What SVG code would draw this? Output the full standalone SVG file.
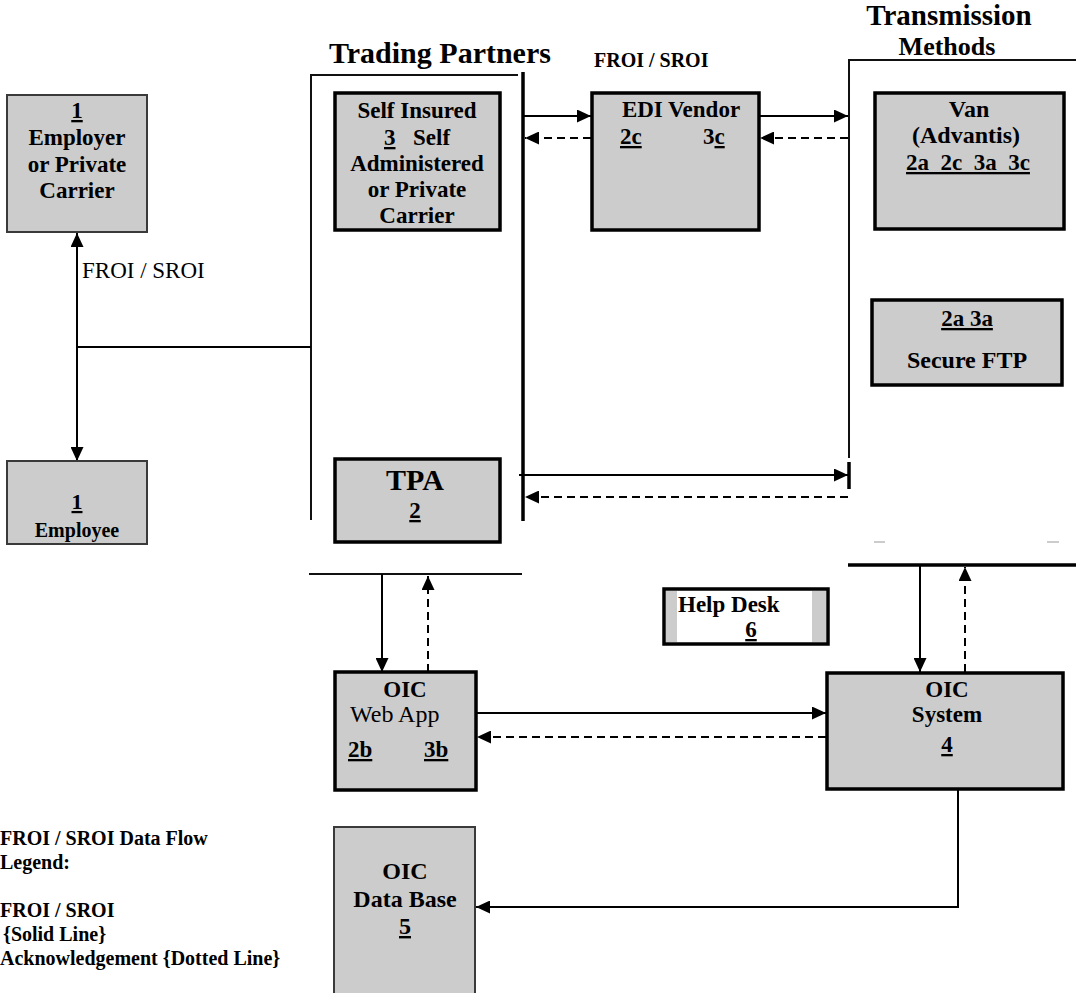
<svg xmlns="http://www.w3.org/2000/svg" width="1076" height="993" viewBox="0 0 1076 993">
<style>
text{font-family:"Liberation Serif","Times New Roman",serif;fill:#000}
.b{font-weight:bold}
.c{text-anchor:middle}
.u{text-decoration:underline}
.box{fill:#cccccc;stroke:#000;stroke-width:3.5}
.tbox{fill:#cccccc;stroke:#3a3a3a;stroke-width:2}
.ln{fill:none;stroke:#000;stroke-width:2}
.dl{fill:none;stroke:#000;stroke-width:2;stroke-dasharray:8 5}
.br{fill:none;stroke:#111;stroke-width:2}
.brk{fill:none;stroke:#000;stroke-width:3.5}
</style>
<defs>
<marker id="ah" markerUnits="userSpaceOnUse" markerWidth="14" markerHeight="13" refX="14" refY="6.5" orient="auto-start-reverse">
<path d="M0,0 L14,6.5 L0,13 z" fill="#000" stroke="none"/>
</marker>
</defs>

<rect width="1076" height="993" fill="#fff"/>

<g id="headings">
<text class="b" x="329" y="63" font-size="30">Trading Partners</text>
<text class="b" x="594" y="67" font-size="20">FROI / SROI</text>
<text class="b c" x="949" y="25" font-size="29">Transmission</text>
<text class="b c" x="947" y="55" font-size="26">Methods</text>
</g>

<g id="brackets">
<polyline class="br" points="311,520 311,75 518,75"/>
<line class="brk" x1="523" y1="72" x2="523" y2="521"/>
<line class="br" x1="309" y1="574" x2="522" y2="574"/>
<polyline class="br" points="849,458 849,60 1076,60"/>
<line class="brk" x1="849" y1="462" x2="849" y2="489"/>
<line class="brk" x1="848" y1="565" x2="1076" y2="565"/>
<line x1="874" y1="542" x2="885" y2="542" stroke="#bbb" stroke-width="1.5"/>
<line x1="1047" y1="542" x2="1059" y2="542" stroke="#bbb" stroke-width="1.5"/>
</g>

<g id="connectors">
<line class="ln" x1="77" y1="233" x2="77" y2="461" marker-start="url(#ah)" marker-end="url(#ah)"/>
<line class="ln" x1="77" y1="347" x2="311" y2="347"/>
<line class="ln" x1="524" y1="116" x2="591" y2="116" marker-end="url(#ah)"/>
<line class="dl" x1="591" y1="138" x2="525" y2="138" marker-end="url(#ah)"/>
<line class="ln" x1="759" y1="116" x2="848" y2="116" marker-end="url(#ah)"/>
<line class="dl" x1="848" y1="138" x2="760" y2="138" marker-end="url(#ah)"/>
<line class="ln" x1="519" y1="475" x2="848" y2="475" marker-end="url(#ah)"/>
<line class="dl" x1="848" y1="497" x2="525" y2="497" marker-end="url(#ah)"/>
<line class="ln" x1="382" y1="574" x2="382" y2="672" marker-end="url(#ah)"/>
<line class="dl" x1="428" y1="672" x2="428" y2="576" marker-end="url(#ah)"/>
<line class="ln" x1="476" y1="713" x2="826" y2="713" marker-end="url(#ah)"/>
<line class="dl" x1="826" y1="737" x2="477" y2="737" marker-end="url(#ah)"/>
<line class="ln" x1="920" y1="566" x2="920" y2="672" marker-end="url(#ah)"/>
<line class="dl" x1="965" y1="672" x2="965" y2="567" marker-end="url(#ah)"/>
<polyline class="ln" points="958,790 958,907 476,907" marker-end="url(#ah)"/>
</g>

<g id="employer">
<rect class="tbox" x="7" y="95" width="140" height="137"/>
<text class="b c u" x="77" y="118" font-size="23">1</text>
<text class="b c" x="77" y="145" font-size="23">Employer</text>
<text class="b c" x="77" y="172" font-size="23">or Private</text>
<text class="b c" x="77" y="198" font-size="23">Carrier</text>
</g>
<text x="82" y="278" font-size="23">FROI / SROI</text>

<g id="employee">
<rect class="tbox" x="7" y="461" width="140" height="83"/>
<text class="b c u" x="77" y="509" font-size="22">1</text>
<text class="b c" x="77" y="537" font-size="20">Employee</text>
</g>

<g id="self-insured">
<rect class="box" x="335" y="93" width="165" height="137"/>
<text class="b c" x="417" y="118" font-size="23">Self Insured</text>
<text class="b u" x="384" y="145" font-size="23">3</text>
<text class="b" x="413" y="145" font-size="23">Self</text>
<text class="b c" x="417" y="171" font-size="23">Administered</text>
<text class="b c" x="417" y="197" font-size="23">or Private</text>
<text class="b c" x="417" y="223" font-size="23">Carrier</text>
</g>

<g id="edi-vendor">
<rect class="box" x="592" y="93" width="167" height="137"/>
<text class="b c" x="681" y="117" font-size="23">EDI Vendor</text>
<text class="b u" x="620" y="144" font-size="23">2c</text>
<text class="b" x="703" y="144" font-size="23">3<tspan class="u">c</tspan></text>
</g>

<g id="van">
<rect class="box" x="875" y="93" width="189" height="136"/>
<text class="b c" x="969" y="117" font-size="24">Van</text>
<text class="b c" x="966" y="143" font-size="24">(Advantis)</text>
<text class="b c u" x="968" y="170" font-size="23" style="white-space:pre">2a  2c  3a  3c</text>
</g>

<g id="secure-ftp">
<rect class="box" x="872" y="300" width="190" height="85"/>
<text class="b c u" x="967" y="326" font-size="23">2a 3a</text>
<text class="b c" x="967" y="368" font-size="24">Secure FTP</text>
</g>

<g id="tpa">
<rect class="box" x="335" y="459" width="165" height="83"/>
<text class="b c" x="415" y="490" font-size="30">TPA</text>
<text class="b c u" x="415" y="518" font-size="23">2</text>
</g>

<g id="help-desk">
<rect x="664" y="589" width="164" height="55" fill="#fff" stroke="#000" stroke-width="3.5"/>
<rect x="666" y="591" width="11" height="51" fill="#cccccc"/>
<rect x="812" y="591" width="14" height="51" fill="#cccccc"/>
<text class="b" x="678" y="612" font-size="23">Help Desk</text>
<text class="b c u" x="751" y="637" font-size="23">6</text>
</g>

<g id="web-app">
<rect class="box" x="335" y="672" width="141" height="118"/>
<text class="b c" x="405" y="697" font-size="23">OIC</text>
<text x="350" y="722" font-size="24">Web App</text>
<text class="b u" x="348" y="757" font-size="23">2b</text>
<text class="b u" x="424" y="757" font-size="23">3b</text>
</g>

<g id="oic-system">
<rect class="box" x="827" y="673" width="236" height="116"/>
<text class="b c" x="947" y="697" font-size="23">OIC</text>
<text class="b c" x="947" y="722" font-size="23">System</text>
<text class="b c u" x="947" y="752" font-size="23">4</text>
</g>

<g id="database">
<rect class="tbox" x="334" y="827" width="141" height="180"/>
<text class="b c" x="405" y="879" font-size="24">OIC</text>
<text class="b c" x="405" y="907" font-size="24">Data Base</text>
<text class="b c u" x="405" y="934" font-size="24">5</text>
</g>

<g id="legend" font-size="20">
<text class="b" x="0" y="845">FROI / SROI Data Flow</text>
<text class="b" x="0" y="869">Legend:</text>
<text class="b" x="0" y="917">FROI / SROI</text>
<text class="b" x="3" y="941">{Solid Line}</text>
<text class="b" x="0" y="965">Acknowledgement {Dotted Line}</text>
</g>
</svg>
